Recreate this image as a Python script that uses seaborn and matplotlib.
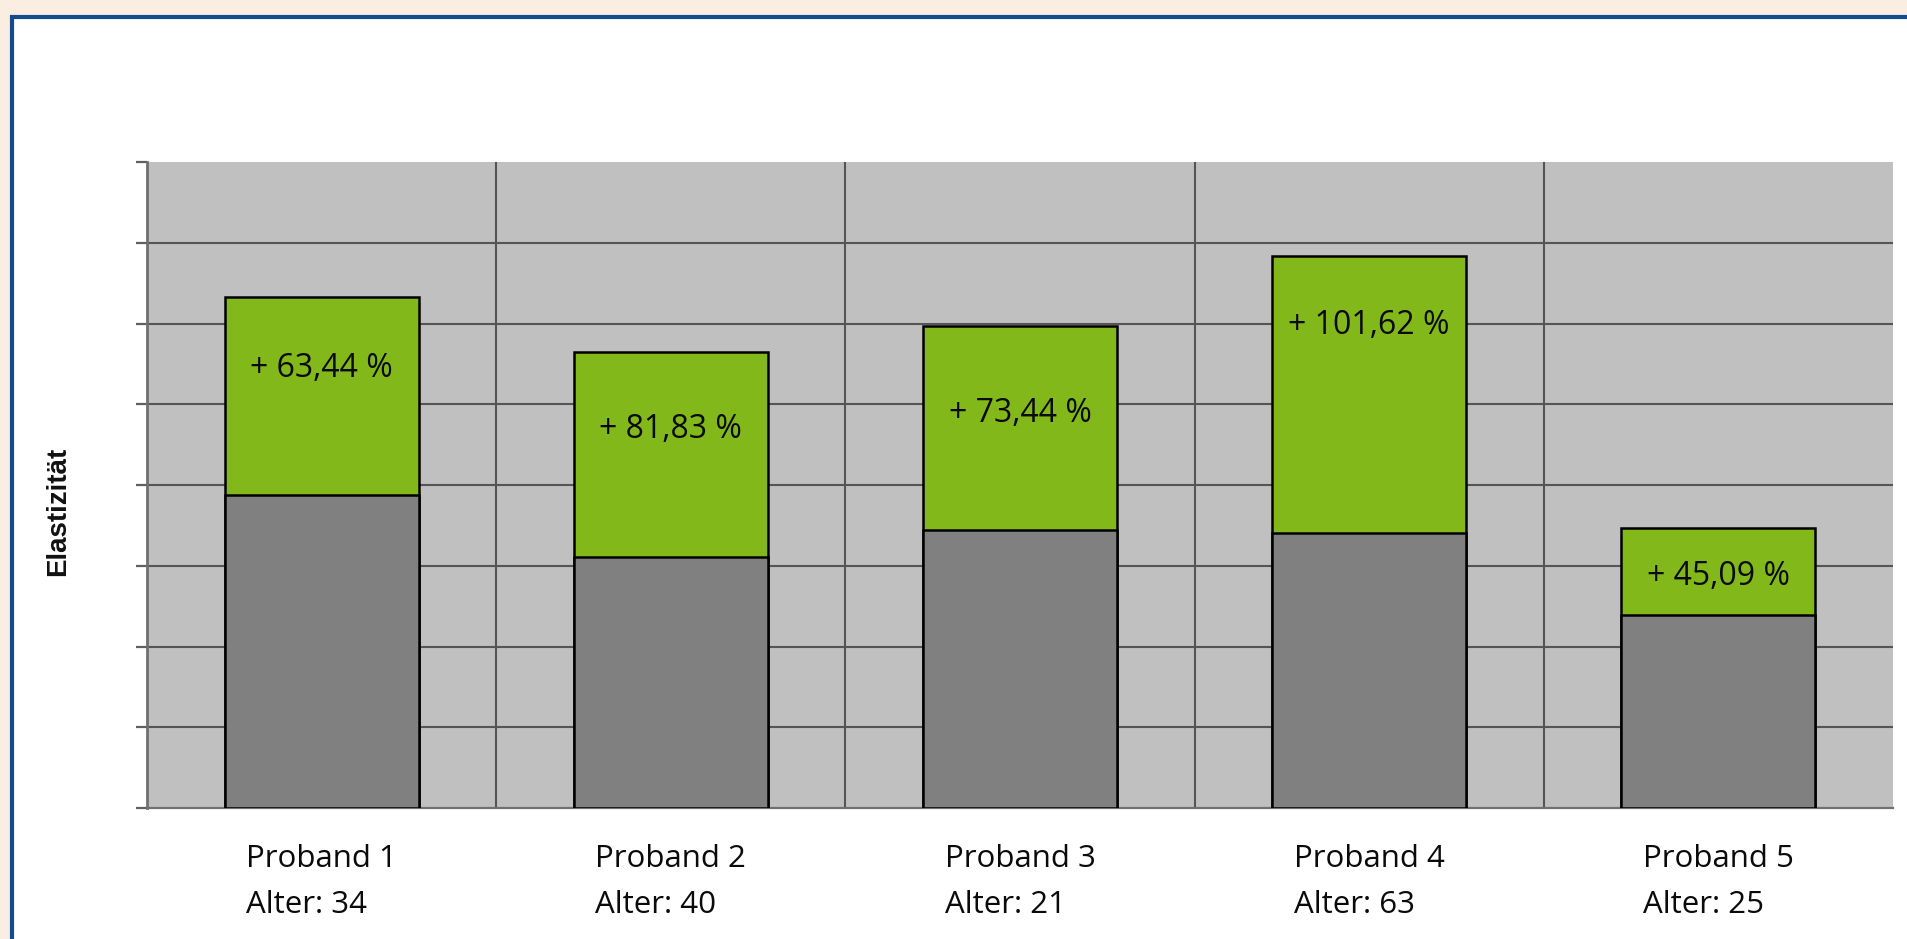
import matplotlib
matplotlib.use("Agg")
import matplotlib.pyplot as plt
import seaborn as sns
import pandas as pd
from matplotlib.patches import Rectangle

# values (grid units, 0..8)
probanden = ["Proband 1", "Proband 2", "Proband 3", "Proband 4", "Proband 5"]
alter = [34, 40, 21, 63, 25]
vorher = [3.87, 3.11, 3.44, 3.40, 2.39]
nachher = [6.33, 5.65, 5.97, 6.83, 3.47]
zuwachs = ["+ 63,44 %", "+ 81,83 %", "+ 73,44 %", "+ 101,62 %", "+ 45,09 %"]
label_y = [5.44, 4.69, 4.89, 5.97, 2.87]

df = pd.DataFrame({
    "kat": [f"{p}\nAlter: {a}" for p, a in zip(probanden, alter)],
    "vorher": vorher,
    "nachher": nachher,
})

sns.set_style("white")
plt.rcParams["font.family"] = ["Open Sans", "DejaVu Sans"]

fig = plt.figure(figsize=(19.07, 9.39), dpi=100)
fig.patch.set_facecolor("#FAEEE2")

# white panel with blue frame
fig.patches.append(Rectangle(
    (12 / 1907, -0.2), 1.2, 1.2 - 17 / 939,
    transform=fig.transFigure, facecolor="white",
    edgecolor="#124C8E", linewidth=3, zorder=-10
))

ax = fig.add_axes([147 / 1907, 1 - 808 / 939, (1893 - 147) / 1907, (808 - 162) / 939])
ax.set_facecolor("#C0C0C0")

sns.barplot(data=df, x="kat", y="nachher", color="#83B81A", edgecolor="black",
            linewidth=1.8, width=0.555, saturation=1, ax=ax, zorder=3)
sns.barplot(data=df, x="kat", y="vorher", color="#808080", edgecolor="black",
            linewidth=1.8, width=0.555, saturation=1, ax=ax, zorder=3)

for i, (txt, yy) in enumerate(zip(zuwachs, label_y)):
    ax.text(i, yy, txt, ha="center", va="center", fontsize=23, color="#0a0a0a", zorder=4)

ax.set_xlim(-0.5, 4.5)
ax.set_ylim(0, 8)

# y ticks and grid
ax.set_yticks(range(0, 9))
ax.set_yticklabels([])
ax.grid(False)
for y in range(1, 8):
    ax.axhline(y, color="#555555", linewidth=1.5, zorder=1)

# x ticks at category borders
ax.set_xticks(range(5))
ax.set_xticklabels(df["kat"], fontsize=22.5, multialignment="left", linespacing=1.68)
ax.set_xticks([-0.5, 0.5, 1.5, 2.5, 3.5, 4.5], minor=True)
for x in [0.5, 1.5, 2.5, 3.5]:
    ax.axvline(x, color="#555555", linewidth=1.5, zorder=1)

ax.tick_params(axis="x", which="major", length=0, pad=26, colors="#0a0a0a")
ax.tick_params(axis="x", which="minor", length=8, width=1.4, color="#707070", direction="out")
ax.tick_params(axis="y", which="major", left=True, length=8, width=1.6, color="#606060", direction="out")

for s in ["top", "right"]:
    ax.spines[s].set_visible(False)
ax.spines["left"].set_color("#707070")
ax.spines["left"].set_linewidth(2)
ax.spines["bottom"].set_color("#707070")
ax.spines["bottom"].set_linewidth(1.6)

ax.set_xlabel("")
ax.set_ylabel("")
fig.text(58 / 1907, 1 - 511 / 939, "Elastizität", rotation=90, ha="center", va="center",
         fontsize=20, fontweight="bold", family=["Liberation Sans", "DejaVu Sans"], color="#111111")

fig.savefig("out.png", dpi=100, facecolor=fig.get_facecolor())
